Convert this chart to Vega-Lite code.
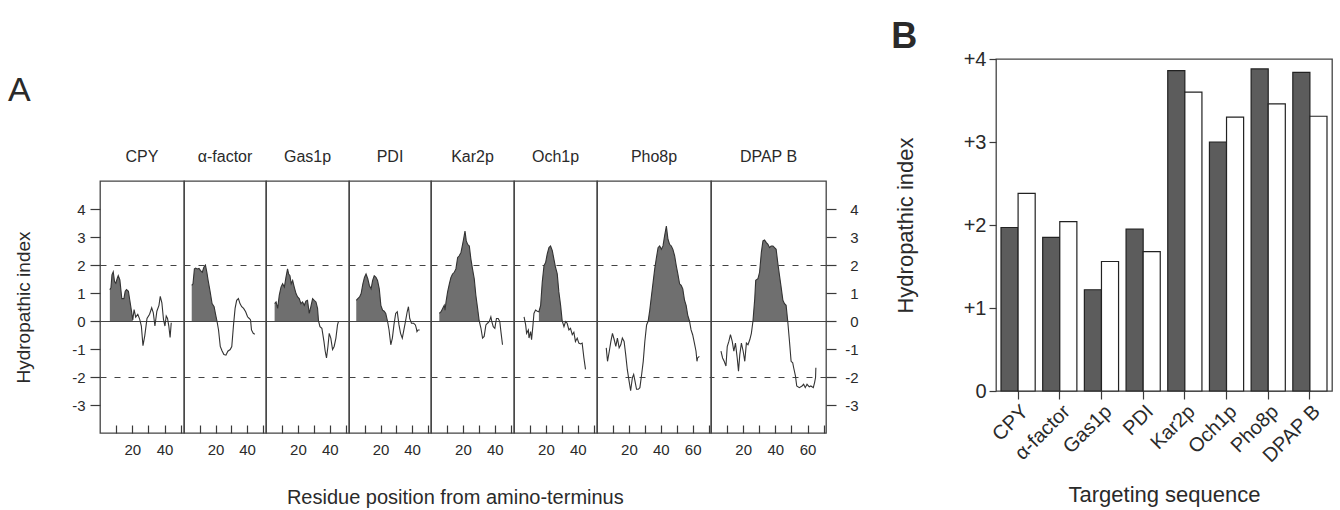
{
  "$schema": "https://vega.github.io/schema/vega-lite/v6.json",
  "padding": {"left": 8, "top": 18, "right": 0, "bottom": 0},
  "background": "#ffffff",
  "config": {
    "font": "Liberation Sans",
    "view": {"stroke": "#444444", "strokeWidth": 1.3},
    "axis": {"labelFont": "Liberation Sans", "titleFont": "Liberation Sans", "labelColor": "#2a2a2a", "titleColor": "#2a2a2a", "tickColor": "#3a3a3a", "tickWidth": 1.2, "grid": false, "titleFontWeight": "normal"},
    "title": {"font": "Liberation Sans", "fontSize": 16, "fontWeight": "normal", "color": "#2a2a2a", "offset": 16, "anchor": "middle"}
  },
  "datasets": {
    "profiles": [
      {"seq": "CPY", "res": 6.1, "h": 1.12, "core": true},
      {"seq": "CPY", "res": 6.8, "h": 1.2, "core": true},
      {"seq": "CPY", "res": 7.4, "h": 1.65, "core": true},
      {"seq": "CPY", "res": 8.2, "h": 1.76, "core": true},
      {"seq": "CPY", "res": 9.0, "h": 1.41, "core": true},
      {"seq": "CPY", "res": 9.8, "h": 1.35, "core": true},
      {"seq": "CPY", "res": 10.7, "h": 1.53, "core": true},
      {"seq": "CPY", "res": 11.3, "h": 1.62, "core": true},
      {"seq": "CPY", "res": 12.3, "h": 1.47, "core": true},
      {"seq": "CPY", "res": 13.5, "h": 0.8, "core": true},
      {"seq": "CPY", "res": 14.8, "h": 0.8, "core": true},
      {"seq": "CPY", "res": 15.6, "h": 1.06, "core": true},
      {"seq": "CPY", "res": 16.4, "h": 1.12, "core": true},
      {"seq": "CPY", "res": 17.6, "h": 1.06, "core": true},
      {"seq": "CPY", "res": 18.4, "h": 0.76, "core": true},
      {"seq": "CPY", "res": 19.5, "h": 0.35, "core": true},
      {"seq": "CPY", "res": 20.3, "h": 0.04, "core": true},
      {"seq": "CPY", "res": 21.1, "h": 0.41},
      {"seq": "CPY", "res": 22.1, "h": 0.14},
      {"seq": "CPY", "res": 23.4, "h": 0.24},
      {"seq": "CPY", "res": 24.6, "h": 0.06},
      {"seq": "CPY", "res": 25.6, "h": -0.18},
      {"seq": "CPY", "res": 26.6, "h": -0.88},
      {"seq": "CPY", "res": 27.7, "h": -0.53},
      {"seq": "CPY", "res": 29.1, "h": 0.09},
      {"seq": "CPY", "res": 30.7, "h": 0.24},
      {"seq": "CPY", "res": 32.0, "h": 0.47},
      {"seq": "CPY", "res": 33.0, "h": 0.29},
      {"seq": "CPY", "res": 34.0, "h": -0.18},
      {"seq": "CPY", "res": 35.2, "h": 0.35},
      {"seq": "CPY", "res": 36.5, "h": 0.56},
      {"seq": "CPY", "res": 37.3, "h": 0.88},
      {"seq": "CPY", "res": 38.3, "h": 0.65},
      {"seq": "CPY", "res": 39.3, "h": 0.06},
      {"seq": "CPY", "res": 40.2, "h": -0.18},
      {"seq": "CPY", "res": 41.0, "h": 0.18},
      {"seq": "CPY", "res": 41.8, "h": 0.09},
      {"seq": "CPY", "res": 42.6, "h": -0.18},
      {"seq": "CPY", "res": 43.4, "h": -0.59},
      {"seq": "CPY", "res": 44.1, "h": -0.06},
      {"seq": "α-factor", "res": 4.9, "h": 1.27, "core": true},
      {"seq": "α-factor", "res": 5.7, "h": 1.33, "core": true},
      {"seq": "α-factor", "res": 6.6, "h": 1.86, "core": true},
      {"seq": "α-factor", "res": 7.4, "h": 1.89, "core": true},
      {"seq": "α-factor", "res": 8.4, "h": 1.86, "core": true},
      {"seq": "α-factor", "res": 9.5, "h": 1.88, "core": true},
      {"seq": "α-factor", "res": 10.5, "h": 1.8, "core": true},
      {"seq": "α-factor", "res": 11.6, "h": 1.74, "core": true},
      {"seq": "α-factor", "res": 12.6, "h": 1.92, "core": true},
      {"seq": "α-factor", "res": 13.6, "h": 2.0, "core": true},
      {"seq": "α-factor", "res": 14.5, "h": 1.74, "core": true},
      {"seq": "α-factor", "res": 15.3, "h": 1.45, "core": true},
      {"seq": "α-factor", "res": 16.6, "h": 1.04, "core": true},
      {"seq": "α-factor", "res": 17.8, "h": 0.62, "core": true},
      {"seq": "α-factor", "res": 19.1, "h": 0.51, "core": true},
      {"seq": "α-factor", "res": 19.9, "h": 0.27, "core": true},
      {"seq": "α-factor", "res": 20.9, "h": 0.0, "core": true},
      {"seq": "α-factor", "res": 21.9, "h": -0.32},
      {"seq": "α-factor", "res": 23.0, "h": -0.91},
      {"seq": "α-factor", "res": 24.1, "h": -1.06},
      {"seq": "α-factor", "res": 25.3, "h": -1.2},
      {"seq": "α-factor", "res": 26.6, "h": -1.22},
      {"seq": "α-factor", "res": 27.8, "h": -1.08},
      {"seq": "α-factor", "res": 29.3, "h": -1.02},
      {"seq": "α-factor", "res": 30.3, "h": -0.91},
      {"seq": "α-factor", "res": 31.4, "h": -0.14},
      {"seq": "α-factor", "res": 32.4, "h": 0.45},
      {"seq": "α-factor", "res": 33.4, "h": 0.74},
      {"seq": "α-factor", "res": 34.5, "h": 0.8},
      {"seq": "α-factor", "res": 35.5, "h": 0.62},
      {"seq": "α-factor", "res": 36.6, "h": 0.51},
      {"seq": "α-factor", "res": 37.8, "h": 0.45},
      {"seq": "α-factor", "res": 39.1, "h": 0.33},
      {"seq": "α-factor", "res": 40.3, "h": 0.15},
      {"seq": "α-factor", "res": 41.4, "h": 0.09},
      {"seq": "α-factor", "res": 42.2, "h": 0.04},
      {"seq": "α-factor", "res": 42.8, "h": -0.32},
      {"seq": "α-factor", "res": 43.9, "h": -0.44},
      {"seq": "α-factor", "res": 44.9, "h": -0.47},
      {"seq": "Gas1p", "res": 5.4, "h": 0.62, "core": true},
      {"seq": "Gas1p", "res": 6.3, "h": 0.68, "core": true},
      {"seq": "Gas1p", "res": 7.3, "h": 0.45, "core": true},
      {"seq": "Gas1p", "res": 8.3, "h": 0.92, "core": true},
      {"seq": "Gas1p", "res": 9.4, "h": 1.21, "core": true},
      {"seq": "Gas1p", "res": 10.4, "h": 1.33, "core": true},
      {"seq": "Gas1p", "res": 11.5, "h": 1.21, "core": true},
      {"seq": "Gas1p", "res": 12.5, "h": 1.56, "core": true},
      {"seq": "Gas1p", "res": 13.5, "h": 1.86, "core": true},
      {"seq": "Gas1p", "res": 14.2, "h": 1.68, "core": true},
      {"seq": "Gas1p", "res": 15.0, "h": 1.62, "core": true},
      {"seq": "Gas1p", "res": 15.8, "h": 1.33, "core": true},
      {"seq": "Gas1p", "res": 16.7, "h": 1.45, "core": true},
      {"seq": "Gas1p", "res": 17.7, "h": 1.21, "core": true},
      {"seq": "Gas1p", "res": 18.8, "h": 0.98, "core": true},
      {"seq": "Gas1p", "res": 19.8, "h": 0.86, "core": true},
      {"seq": "Gas1p", "res": 20.8, "h": 0.8, "core": true},
      {"seq": "Gas1p", "res": 21.9, "h": 0.62, "core": true},
      {"seq": "Gas1p", "res": 22.9, "h": 0.68, "core": true},
      {"seq": "Gas1p", "res": 24.0, "h": 0.56, "core": true},
      {"seq": "Gas1p", "res": 25.0, "h": 0.71, "core": true},
      {"seq": "Gas1p", "res": 26.0, "h": 0.74, "core": true},
      {"seq": "Gas1p", "res": 27.1, "h": 0.27, "core": true},
      {"seq": "Gas1p", "res": 28.1, "h": 0.51, "core": true},
      {"seq": "Gas1p", "res": 29.2, "h": 0.8, "core": true},
      {"seq": "Gas1p", "res": 30.2, "h": 0.74, "core": true},
      {"seq": "Gas1p", "res": 31.3, "h": 0.68, "core": true},
      {"seq": "Gas1p", "res": 32.3, "h": 0.45, "core": true},
      {"seq": "Gas1p", "res": 32.9, "h": 0.0, "core": true},
      {"seq": "Gas1p", "res": 33.8, "h": -0.2},
      {"seq": "Gas1p", "res": 35.0, "h": -0.26},
      {"seq": "Gas1p", "res": 36.3, "h": -0.73},
      {"seq": "Gas1p", "res": 37.1, "h": -1.08},
      {"seq": "Gas1p", "res": 37.9, "h": -1.32},
      {"seq": "Gas1p", "res": 38.8, "h": -0.91},
      {"seq": "Gas1p", "res": 39.6, "h": -0.44},
      {"seq": "Gas1p", "res": 40.6, "h": -0.61},
      {"seq": "Gas1p", "res": 41.7, "h": -1.02},
      {"seq": "Gas1p", "res": 42.7, "h": -0.91},
      {"seq": "Gas1p", "res": 43.8, "h": -0.61},
      {"seq": "Gas1p", "res": 44.8, "h": -0.14},
      {"seq": "Gas1p", "res": 45.4, "h": -0.02},
      {"seq": "PDI", "res": 4.6, "h": 0.74, "core": true},
      {"seq": "PDI", "res": 5.6, "h": 0.8, "core": true},
      {"seq": "PDI", "res": 6.7, "h": 0.86, "core": true},
      {"seq": "PDI", "res": 7.7, "h": 0.98, "core": true},
      {"seq": "PDI", "res": 8.8, "h": 1.33, "core": true},
      {"seq": "PDI", "res": 9.8, "h": 1.56, "core": true},
      {"seq": "PDI", "res": 10.8, "h": 1.68, "core": true},
      {"seq": "PDI", "res": 11.9, "h": 1.51, "core": true},
      {"seq": "PDI", "res": 12.9, "h": 1.27, "core": true},
      {"seq": "PDI", "res": 14.0, "h": 1.15, "core": true},
      {"seq": "PDI", "res": 15.0, "h": 1.45, "core": true},
      {"seq": "PDI", "res": 16.0, "h": 1.62, "core": true},
      {"seq": "PDI", "res": 17.1, "h": 1.56, "core": true},
      {"seq": "PDI", "res": 18.1, "h": 1.45, "core": true},
      {"seq": "PDI", "res": 19.2, "h": 1.15, "core": true},
      {"seq": "PDI", "res": 20.2, "h": 0.56, "core": true},
      {"seq": "PDI", "res": 21.3, "h": 0.39, "core": true},
      {"seq": "PDI", "res": 22.3, "h": 0.35, "core": true},
      {"seq": "PDI", "res": 23.3, "h": 0.27, "core": true},
      {"seq": "PDI", "res": 24.4, "h": 0.0, "core": true},
      {"seq": "PDI", "res": 25.4, "h": -0.32},
      {"seq": "PDI", "res": 26.5, "h": -0.85},
      {"seq": "PDI", "res": 27.5, "h": -0.61},
      {"seq": "PDI", "res": 28.5, "h": -0.14},
      {"seq": "PDI", "res": 29.6, "h": 0.27},
      {"seq": "PDI", "res": 30.6, "h": 0.33},
      {"seq": "PDI", "res": 31.7, "h": -0.14},
      {"seq": "PDI", "res": 32.7, "h": -0.44},
      {"seq": "PDI", "res": 33.8, "h": -0.61},
      {"seq": "PDI", "res": 34.8, "h": -0.32},
      {"seq": "PDI", "res": 35.8, "h": -0.02},
      {"seq": "PDI", "res": 36.9, "h": 0.33},
      {"seq": "PDI", "res": 37.7, "h": 0.51},
      {"seq": "PDI", "res": 38.5, "h": 0.09},
      {"seq": "PDI", "res": 39.6, "h": -0.08},
      {"seq": "PDI", "res": 41.0, "h": -0.08},
      {"seq": "PDI", "res": 42.1, "h": -0.14},
      {"seq": "PDI", "res": 42.7, "h": -0.26},
      {"seq": "PDI", "res": 43.1, "h": -0.38},
      {"seq": "PDI", "res": 43.8, "h": -0.32},
      {"seq": "PDI", "res": 44.8, "h": -0.32},
      {"seq": "Kar2p", "res": 5.2, "h": 0.27, "core": true},
      {"seq": "Kar2p", "res": 6.3, "h": 0.33, "core": true},
      {"seq": "Kar2p", "res": 7.3, "h": 0.45, "core": true},
      {"seq": "Kar2p", "res": 8.3, "h": 0.56, "core": true},
      {"seq": "Kar2p", "res": 8.8, "h": 0.39, "core": true},
      {"seq": "Kar2p", "res": 9.4, "h": 0.68, "core": true},
      {"seq": "Kar2p", "res": 10.4, "h": 1.04, "core": true},
      {"seq": "Kar2p", "res": 11.5, "h": 1.33, "core": true},
      {"seq": "Kar2p", "res": 12.5, "h": 1.56, "core": true},
      {"seq": "Kar2p", "res": 13.5, "h": 1.68, "core": true},
      {"seq": "Kar2p", "res": 14.6, "h": 1.74, "core": true},
      {"seq": "Kar2p", "res": 15.6, "h": 1.86, "core": true},
      {"seq": "Kar2p", "res": 16.7, "h": 2.27, "core": true},
      {"seq": "Kar2p", "res": 17.7, "h": 2.33, "core": true},
      {"seq": "Kar2p", "res": 18.8, "h": 2.45, "core": true},
      {"seq": "Kar2p", "res": 19.8, "h": 2.74, "core": true},
      {"seq": "Kar2p", "res": 20.4, "h": 2.92, "core": true},
      {"seq": "Kar2p", "res": 21.3, "h": 3.21, "core": true},
      {"seq": "Kar2p", "res": 22.1, "h": 2.86, "core": true},
      {"seq": "Kar2p", "res": 22.9, "h": 2.74, "core": true},
      {"seq": "Kar2p", "res": 24.0, "h": 2.68, "core": true},
      {"seq": "Kar2p", "res": 25.0, "h": 2.21, "core": true},
      {"seq": "Kar2p", "res": 26.0, "h": 1.86, "core": true},
      {"seq": "Kar2p", "res": 27.1, "h": 1.51, "core": true},
      {"seq": "Kar2p", "res": 28.1, "h": 0.92, "core": true},
      {"seq": "Kar2p", "res": 29.2, "h": 0.45, "core": true},
      {"seq": "Kar2p", "res": 30.2, "h": 0.0, "core": true},
      {"seq": "Kar2p", "res": 31.3, "h": -0.26},
      {"seq": "Kar2p", "res": 32.3, "h": -0.61},
      {"seq": "Kar2p", "res": 33.3, "h": -0.55},
      {"seq": "Kar2p", "res": 34.4, "h": -0.14},
      {"seq": "Kar2p", "res": 35.4, "h": -0.08},
      {"seq": "Kar2p", "res": 36.5, "h": -0.02},
      {"seq": "Kar2p", "res": 37.5, "h": 0.15},
      {"seq": "Kar2p", "res": 38.1, "h": -0.02},
      {"seq": "Kar2p", "res": 39.0, "h": -0.2},
      {"seq": "Kar2p", "res": 40.0, "h": -0.26},
      {"seq": "Kar2p", "res": 41.0, "h": 0.09},
      {"seq": "Kar2p", "res": 42.1, "h": 0.09},
      {"seq": "Kar2p", "res": 43.1, "h": -0.02},
      {"seq": "Kar2p", "res": 43.8, "h": -0.38},
      {"seq": "Kar2p", "res": 44.8, "h": -0.85},
      {"seq": "Och1p", "res": 6.3, "h": 0.15},
      {"seq": "Och1p", "res": 7.3, "h": -0.14},
      {"seq": "Och1p", "res": 7.9, "h": -0.44},
      {"seq": "Och1p", "res": 9.0, "h": -0.32},
      {"seq": "Och1p", "res": 9.4, "h": -0.61},
      {"seq": "Och1p", "res": 10.4, "h": -0.38},
      {"seq": "Och1p", "res": 11.0, "h": -0.67},
      {"seq": "Och1p", "res": 11.9, "h": -0.14},
      {"seq": "Och1p", "res": 12.5, "h": 0.27},
      {"seq": "Och1p", "res": 13.5, "h": 0.39},
      {"seq": "Och1p", "res": 14.6, "h": 0.35},
      {"seq": "Och1p", "res": 15.6, "h": 0.33, "core": true},
      {"seq": "Och1p", "res": 16.7, "h": 0.56, "core": true},
      {"seq": "Och1p", "res": 17.7, "h": 1.39, "core": true},
      {"seq": "Och1p", "res": 18.8, "h": 1.98, "core": true},
      {"seq": "Och1p", "res": 19.8, "h": 2.09, "core": true},
      {"seq": "Och1p", "res": 20.8, "h": 2.39, "core": true},
      {"seq": "Och1p", "res": 21.9, "h": 2.62, "core": true},
      {"seq": "Och1p", "res": 22.9, "h": 2.68, "core": true},
      {"seq": "Och1p", "res": 24.0, "h": 2.51, "core": true},
      {"seq": "Och1p", "res": 25.0, "h": 2.21, "core": true},
      {"seq": "Och1p", "res": 26.0, "h": 1.92, "core": true},
      {"seq": "Och1p", "res": 27.1, "h": 1.68, "core": true},
      {"seq": "Och1p", "res": 28.1, "h": 1.04, "core": true},
      {"seq": "Och1p", "res": 29.2, "h": 0.56, "core": true},
      {"seq": "Och1p", "res": 30.2, "h": 0.0, "core": true},
      {"seq": "Och1p", "res": 31.3, "h": -0.2},
      {"seq": "Och1p", "res": 32.3, "h": -0.02},
      {"seq": "Och1p", "res": 33.3, "h": -0.08},
      {"seq": "Och1p", "res": 34.4, "h": -0.32},
      {"seq": "Och1p", "res": 35.4, "h": -0.26},
      {"seq": "Och1p", "res": 36.5, "h": -0.49},
      {"seq": "Och1p", "res": 37.5, "h": -0.4},
      {"seq": "Och1p", "res": 38.5, "h": -0.73},
      {"seq": "Och1p", "res": 39.6, "h": -0.61},
      {"seq": "Och1p", "res": 40.6, "h": -0.79},
      {"seq": "Och1p", "res": 41.7, "h": -0.82},
      {"seq": "Och1p", "res": 42.7, "h": -0.79},
      {"seq": "Och1p", "res": 43.8, "h": -1.32},
      {"seq": "Och1p", "res": 44.8, "h": -1.73},
      {"seq": "Pho8p", "res": 5.8, "h": -0.96},
      {"seq": "Pho8p", "res": 6.6, "h": -1.44},
      {"seq": "Pho8p", "res": 7.7, "h": -1.08},
      {"seq": "Pho8p", "res": 8.7, "h": -0.73},
      {"seq": "Pho8p", "res": 9.7, "h": -0.44},
      {"seq": "Pho8p", "res": 10.8, "h": -0.67},
      {"seq": "Pho8p", "res": 11.8, "h": -0.91},
      {"seq": "Pho8p", "res": 12.8, "h": -0.61},
      {"seq": "Pho8p", "res": 13.9, "h": -0.96},
      {"seq": "Pho8p", "res": 14.9, "h": -0.85},
      {"seq": "Pho8p", "res": 15.9, "h": -0.61},
      {"seq": "Pho8p", "res": 17.0, "h": -0.73},
      {"seq": "Pho8p", "res": 18.0, "h": -1.2},
      {"seq": "Pho8p", "res": 19.0, "h": -1.73},
      {"seq": "Pho8p", "res": 20.1, "h": -2.14},
      {"seq": "Pho8p", "res": 21.1, "h": -2.49},
      {"seq": "Pho8p", "res": 22.2, "h": -2.02},
      {"seq": "Pho8p", "res": 23.0, "h": -1.91},
      {"seq": "Pho8p", "res": 23.8, "h": -2.14},
      {"seq": "Pho8p", "res": 24.8, "h": -2.44},
      {"seq": "Pho8p", "res": 25.9, "h": -2.44},
      {"seq": "Pho8p", "res": 26.9, "h": -2.38},
      {"seq": "Pho8p", "res": 28.0, "h": -1.91},
      {"seq": "Pho8p", "res": 29.0, "h": -1.44},
      {"seq": "Pho8p", "res": 30.0, "h": -0.73},
      {"seq": "Pho8p", "res": 31.1, "h": -0.14},
      {"seq": "Pho8p", "res": 32.1, "h": 0.0, "core": true},
      {"seq": "Pho8p", "res": 33.1, "h": 0.39, "core": true},
      {"seq": "Pho8p", "res": 34.2, "h": 0.92, "core": true},
      {"seq": "Pho8p", "res": 35.2, "h": 1.39, "core": true},
      {"seq": "Pho8p", "res": 36.2, "h": 1.86, "core": true},
      {"seq": "Pho8p", "res": 37.3, "h": 2.27, "core": true},
      {"seq": "Pho8p", "res": 38.3, "h": 2.62, "core": true},
      {"seq": "Pho8p", "res": 39.3, "h": 2.68, "core": true},
      {"seq": "Pho8p", "res": 40.4, "h": 2.56, "core": true},
      {"seq": "Pho8p", "res": 41.4, "h": 2.68, "core": true},
      {"seq": "Pho8p", "res": 42.4, "h": 3.04, "core": true},
      {"seq": "Pho8p", "res": 43.5, "h": 3.39, "core": true},
      {"seq": "Pho8p", "res": 44.5, "h": 2.92, "core": true},
      {"seq": "Pho8p", "res": 45.5, "h": 2.74, "core": true},
      {"seq": "Pho8p", "res": 46.6, "h": 2.68, "core": true},
      {"seq": "Pho8p", "res": 47.6, "h": 2.56, "core": true},
      {"seq": "Pho8p", "res": 48.7, "h": 2.33, "core": true},
      {"seq": "Pho8p", "res": 49.7, "h": 1.98, "core": true},
      {"seq": "Pho8p", "res": 50.7, "h": 1.68, "core": true},
      {"seq": "Pho8p", "res": 51.8, "h": 1.33, "core": true},
      {"seq": "Pho8p", "res": 52.8, "h": 1.27, "core": true},
      {"seq": "Pho8p", "res": 53.8, "h": 1.15, "core": true},
      {"seq": "Pho8p", "res": 54.9, "h": 0.74, "core": true},
      {"seq": "Pho8p", "res": 55.9, "h": 0.56, "core": true},
      {"seq": "Pho8p", "res": 56.9, "h": 0.21, "core": true},
      {"seq": "Pho8p", "res": 58.0, "h": 0.0, "core": true},
      {"seq": "Pho8p", "res": 59.0, "h": -0.32},
      {"seq": "Pho8p", "res": 60.0, "h": -0.49},
      {"seq": "Pho8p", "res": 61.1, "h": -0.79},
      {"seq": "Pho8p", "res": 62.1, "h": -1.08},
      {"seq": "Pho8p", "res": 62.7, "h": -1.44},
      {"seq": "Pho8p", "res": 63.1, "h": -1.32},
      {"seq": "Pho8p", "res": 64.2, "h": -1.26},
      {"seq": "DPAP B", "res": 6.2, "h": -1.08},
      {"seq": "DPAP B", "res": 7.2, "h": -1.32},
      {"seq": "DPAP B", "res": 8.2, "h": -1.44},
      {"seq": "DPAP B", "res": 9.3, "h": -1.61},
      {"seq": "DPAP B", "res": 10.1, "h": -0.91},
      {"seq": "DPAP B", "res": 11.1, "h": -0.73},
      {"seq": "DPAP B", "res": 12.1, "h": -0.49},
      {"seq": "DPAP B", "res": 13.2, "h": -0.73},
      {"seq": "DPAP B", "res": 14.2, "h": -1.08},
      {"seq": "DPAP B", "res": 15.2, "h": -0.79},
      {"seq": "DPAP B", "res": 16.3, "h": -1.32},
      {"seq": "DPAP B", "res": 17.1, "h": -1.79},
      {"seq": "DPAP B", "res": 17.9, "h": -1.2},
      {"seq": "DPAP B", "res": 18.9, "h": -0.79},
      {"seq": "DPAP B", "res": 20.0, "h": -1.08},
      {"seq": "DPAP B", "res": 21.0, "h": -1.44},
      {"seq": "DPAP B", "res": 22.0, "h": -0.79},
      {"seq": "DPAP B", "res": 23.0, "h": -0.85},
      {"seq": "DPAP B", "res": 24.1, "h": -0.67},
      {"seq": "DPAP B", "res": 25.1, "h": -0.44},
      {"seq": "DPAP B", "res": 26.1, "h": 0.0, "core": true},
      {"seq": "DPAP B", "res": 27.2, "h": 0.8, "core": true},
      {"seq": "DPAP B", "res": 27.8, "h": 1.45, "core": true},
      {"seq": "DPAP B", "res": 29.2, "h": 1.51, "core": true},
      {"seq": "DPAP B", "res": 30.2, "h": 1.74, "core": true},
      {"seq": "DPAP B", "res": 31.3, "h": 2.45, "core": true},
      {"seq": "DPAP B", "res": 32.3, "h": 2.86, "core": true},
      {"seq": "DPAP B", "res": 33.3, "h": 2.89, "core": true},
      {"seq": "DPAP B", "res": 34.4, "h": 2.8, "core": true},
      {"seq": "DPAP B", "res": 35.4, "h": 2.74, "core": true},
      {"seq": "DPAP B", "res": 36.4, "h": 2.62, "core": true},
      {"seq": "DPAP B", "res": 37.4, "h": 2.68, "core": true},
      {"seq": "DPAP B", "res": 38.5, "h": 2.68, "core": true},
      {"seq": "DPAP B", "res": 39.5, "h": 2.62, "core": true},
      {"seq": "DPAP B", "res": 40.5, "h": 2.56, "core": true},
      {"seq": "DPAP B", "res": 41.6, "h": 2.04, "core": true},
      {"seq": "DPAP B", "res": 42.6, "h": 1.62, "core": true},
      {"seq": "DPAP B", "res": 43.6, "h": 1.21, "core": true},
      {"seq": "DPAP B", "res": 44.7, "h": 0.74, "core": true},
      {"seq": "DPAP B", "res": 45.7, "h": 0.62, "core": true},
      {"seq": "DPAP B", "res": 46.7, "h": 0.56, "core": true},
      {"seq": "DPAP B", "res": 47.7, "h": 0.0, "core": true},
      {"seq": "DPAP B", "res": 48.8, "h": -0.73},
      {"seq": "DPAP B", "res": 49.8, "h": -1.44},
      {"seq": "DPAP B", "res": 50.8, "h": -1.49},
      {"seq": "DPAP B", "res": 51.4, "h": -1.67},
      {"seq": "DPAP B", "res": 52.5, "h": -1.96},
      {"seq": "DPAP B", "res": 53.3, "h": -2.32},
      {"seq": "DPAP B", "res": 54.9, "h": -2.38},
      {"seq": "DPAP B", "res": 56.6, "h": -2.32},
      {"seq": "DPAP B", "res": 57.6, "h": -2.26},
      {"seq": "DPAP B", "res": 58.6, "h": -2.38},
      {"seq": "DPAP B", "res": 59.7, "h": -2.26},
      {"seq": "DPAP B", "res": 61.1, "h": -2.35},
      {"seq": "DPAP B", "res": 62.1, "h": -2.32},
      {"seq": "DPAP B", "res": 63.6, "h": -2.38},
      {"seq": "DPAP B", "res": 64.4, "h": -2.2},
      {"seq": "DPAP B", "res": 65.0, "h": -2.02},
      {"seq": "DPAP B", "res": 65.2, "h": -1.67}
    ],
    "bars": [
      {"seq": "CPY", "series": "solid", "h": 1.97},
      {"seq": "CPY", "series": "open", "h": 2.38},
      {"seq": "α-factor", "series": "solid", "h": 1.85},
      {"seq": "α-factor", "series": "open", "h": 2.04},
      {"seq": "Gas1p", "series": "solid", "h": 1.22},
      {"seq": "Gas1p", "series": "open", "h": 1.56},
      {"seq": "PDI", "series": "solid", "h": 1.95},
      {"seq": "PDI", "series": "open", "h": 1.68},
      {"seq": "Kar2p", "series": "solid", "h": 3.86},
      {"seq": "Kar2p", "series": "open", "h": 3.6},
      {"seq": "Och1p", "series": "solid", "h": 3.0},
      {"seq": "Och1p", "series": "open", "h": 3.3},
      {"seq": "Pho8p", "series": "solid", "h": 3.88},
      {"seq": "Pho8p", "series": "open", "h": 3.46},
      {"seq": "DPAP B", "series": "solid", "h": 3.84},
      {"seq": "DPAP B", "series": "open", "h": 3.31}
    ]
  },
  "spacing": 31,
  "hconcat": [
    {
      "spacing": 14,
      "vconcat": [
        {"width": 1, "height": 1, "view": {"stroke": null}, "data": {"values": []}, "mark": "point", "encoding": {}},
        {
          "title": {"text": "A", "anchor": "start", "frame": "bounds", "fontSize": 34, "fontWeight": "normal", "baseline": "alphabetic", "offset": 13, "dx": -6},
          "hconcat": [
            {
              "title": {"text": "Residue position from amino-terminus", "orient": "bottom", "anchor": "middle", "frame": "bounds", "fontSize": 20, "baseline": "top", "offset": 30, "dx": 19},
              "spacing": 0,
              "bounds": "flush",
              "hconcat": [
                {
                  "width": 84, "height": 252, "title": "CPY",
                  "data": {"name": "profiles"},
                  "transform": [{"filter": "datum.seq === 'CPY'"}],
                  "encoding": {
                    "x": {"field": "res", "type": "quantitative", "scale": {"domain": [0, 52], "nice": false}, "axis": {"values": [10, 20, 30, 40, 50], "labelExpr": "datum.value % 20 === 0 ? datum.label : ''", "tickSize": -8, "labelPadding": 17, "domain": false, "title": null, "labelFontSize": 15, "labelFlush": false, "labelOverlap": false}},
                    "y": {"field": "h", "type": "quantitative", "scale": {"domain": [-4, 5], "nice": false}, "axis": {"orient": "left", "values": [-3, -2, -1, 0, 1, 2, 3, 4], "labelExpr": "datum.value < 0 ? '-' + abs(datum.value) : datum.label", "tickSize": 10, "labelPadding": 5, "domain": false, "title": "Hydropathic index", "titleFontSize": 19, "titlePadding": 38, "labelFontSize": 15, "grid": true, "gridColor": "#444444", "gridOpacity": {"condition": {"test": "abs(datum.value) === 2 || datum.value === 0", "value": 1}, "value": 0}, "gridDash": {"condition": {"test": "datum.value === 0", "value": []}, "value": [6, 8]}}}
                  },
                  "layer": [
                    {"transform": [{"filter": "datum.core"}], "mark": {"type": "area", "fill": "#6f6f6f"}, "encoding": {"y2": {"datum": 0}}},
                    {"mark": {"type": "line", "stroke": "#333333", "strokeWidth": 1.1}}
                  ]
                },
                {
                  "width": 82, "height": 252, "title": "α-factor",
                  "data": {"name": "profiles"},
                  "transform": [{"filter": "datum.seq === 'α-factor'"}],
                  "encoding": {
                    "x": {"field": "res", "type": "quantitative", "scale": {"domain": [0, 52], "nice": false}, "axis": {"values": [10, 20, 30, 40, 50], "labelExpr": "datum.value % 20 === 0 ? datum.label : ''", "tickSize": -8, "labelPadding": 17, "domain": false, "title": null, "labelFontSize": 15, "labelFlush": false, "labelOverlap": false}},
                    "y": {"field": "h", "type": "quantitative", "scale": {"domain": [-4, 5], "nice": false}, "axis": {"values": [-2, 0, 2], "labels": false, "ticks": false, "domain": false, "title": null, "grid": true, "gridColor": "#444444", "gridDash": {"condition": {"test": "datum.value === 0", "value": []}, "value": [6, 8]}}}
                  },
                  "layer": [
                    {"transform": [{"filter": "datum.core"}], "mark": {"type": "area", "fill": "#6f6f6f"}, "encoding": {"y2": {"datum": 0}}},
                    {"mark": {"type": "line", "stroke": "#333333", "strokeWidth": 1.1}}
                  ]
                },
                {
                  "width": 83, "height": 252, "title": "Gas1p",
                  "data": {"name": "profiles"},
                  "transform": [{"filter": "datum.seq === 'Gas1p'"}],
                  "encoding": {
                    "x": {"field": "res", "type": "quantitative", "scale": {"domain": [0, 52], "nice": false}, "axis": {"values": [10, 20, 30, 40, 50], "labelExpr": "datum.value % 20 === 0 ? datum.label : ''", "tickSize": -8, "labelPadding": 17, "domain": false, "title": null, "labelFontSize": 15, "labelFlush": false, "labelOverlap": false}},
                    "y": {"field": "h", "type": "quantitative", "scale": {"domain": [-4, 5], "nice": false}, "axis": {"values": [-2, 0, 2], "labels": false, "ticks": false, "domain": false, "title": null, "grid": true, "gridColor": "#444444", "gridDash": {"condition": {"test": "datum.value === 0", "value": []}, "value": [6, 8]}}}
                  },
                  "layer": [
                    {"transform": [{"filter": "datum.core"}], "mark": {"type": "area", "fill": "#6f6f6f"}, "encoding": {"y2": {"datum": 0}}},
                    {"mark": {"type": "line", "stroke": "#333333", "strokeWidth": 1.1}}
                  ]
                },
                {
                  "width": 82, "height": 252, "title": "PDI",
                  "data": {"name": "profiles"},
                  "transform": [{"filter": "datum.seq === 'PDI'"}],
                  "encoding": {
                    "x": {"field": "res", "type": "quantitative", "scale": {"domain": [0, 52], "nice": false}, "axis": {"values": [10, 20, 30, 40, 50], "labelExpr": "datum.value % 20 === 0 ? datum.label : ''", "tickSize": -8, "labelPadding": 17, "domain": false, "title": null, "labelFontSize": 15, "labelFlush": false, "labelOverlap": false}},
                    "y": {"field": "h", "type": "quantitative", "scale": {"domain": [-4, 5], "nice": false}, "axis": {"values": [-2, 0, 2], "labels": false, "ticks": false, "domain": false, "title": null, "grid": true, "gridColor": "#444444", "gridDash": {"condition": {"test": "datum.value === 0", "value": []}, "value": [6, 8]}}}
                  },
                  "layer": [
                    {"transform": [{"filter": "datum.core"}], "mark": {"type": "area", "fill": "#6f6f6f"}, "encoding": {"y2": {"datum": 0}}},
                    {"mark": {"type": "line", "stroke": "#333333", "strokeWidth": 1.1}}
                  ]
                },
                {
                  "width": 83, "height": 252, "title": "Kar2p",
                  "data": {"name": "profiles"},
                  "transform": [{"filter": "datum.seq === 'Kar2p'"}],
                  "encoding": {
                    "x": {"field": "res", "type": "quantitative", "scale": {"domain": [0, 52], "nice": false}, "axis": {"values": [10, 20, 30, 40, 50], "labelExpr": "datum.value % 20 === 0 ? datum.label : ''", "tickSize": -8, "labelPadding": 17, "domain": false, "title": null, "labelFontSize": 15, "labelFlush": false, "labelOverlap": false}},
                    "y": {"field": "h", "type": "quantitative", "scale": {"domain": [-4, 5], "nice": false}, "axis": {"values": [-2, 0, 2], "labels": false, "ticks": false, "domain": false, "title": null, "grid": true, "gridColor": "#444444", "gridDash": {"condition": {"test": "datum.value === 0", "value": []}, "value": [6, 8]}}}
                  },
                  "layer": [
                    {"transform": [{"filter": "datum.core"}], "mark": {"type": "area", "fill": "#6f6f6f"}, "encoding": {"y2": {"datum": 0}}},
                    {"mark": {"type": "line", "stroke": "#333333", "strokeWidth": 1.1}}
                  ]
                },
                {
                  "width": 83, "height": 252, "title": "Och1p",
                  "data": {"name": "profiles"},
                  "transform": [{"filter": "datum.seq === 'Och1p'"}],
                  "encoding": {
                    "x": {"field": "res", "type": "quantitative", "scale": {"domain": [0, 52], "nice": false}, "axis": {"values": [10, 20, 30, 40, 50], "labelExpr": "datum.value % 20 === 0 ? datum.label : ''", "tickSize": -8, "labelPadding": 17, "domain": false, "title": null, "labelFontSize": 15, "labelFlush": false, "labelOverlap": false}},
                    "y": {"field": "h", "type": "quantitative", "scale": {"domain": [-4, 5], "nice": false}, "axis": {"values": [-2, 0, 2], "labels": false, "ticks": false, "domain": false, "title": null, "grid": true, "gridColor": "#444444", "gridDash": {"condition": {"test": "datum.value === 0", "value": []}, "value": [6, 8]}}}
                  },
                  "layer": [
                    {"transform": [{"filter": "datum.core"}], "mark": {"type": "area", "fill": "#6f6f6f"}, "encoding": {"y2": {"datum": 0}}},
                    {"mark": {"type": "line", "stroke": "#333333", "strokeWidth": 1.1}}
                  ]
                },
                {
                  "width": 114, "height": 252, "title": "Pho8p",
                  "data": {"name": "profiles"},
                  "transform": [{"filter": "datum.seq === 'Pho8p'"}],
                  "encoding": {
                    "x": {"field": "res", "type": "quantitative", "scale": {"domain": [0, 71.5], "nice": false}, "axis": {"values": [10, 20, 30, 40, 50, 60, 70], "labelExpr": "datum.value % 20 === 0 ? datum.label : ''", "tickSize": -8, "labelPadding": 17, "domain": false, "title": null, "labelFontSize": 15, "labelFlush": false, "labelOverlap": false}},
                    "y": {"field": "h", "type": "quantitative", "scale": {"domain": [-4, 5], "nice": false}, "axis": {"values": [-2, 0, 2], "labels": false, "ticks": false, "domain": false, "title": null, "grid": true, "gridColor": "#444444", "gridDash": {"condition": {"test": "datum.value === 0", "value": []}, "value": [6, 8]}}}
                  },
                  "layer": [
                    {"transform": [{"filter": "datum.core"}], "mark": {"type": "area", "fill": "#6f6f6f"}, "encoding": {"y2": {"datum": 0}}},
                    {"mark": {"type": "line", "stroke": "#333333", "strokeWidth": 1.1}}
                  ]
                },
                {
                  "width": 115, "height": 252, "title": "DPAP B",
                  "data": {"name": "profiles"},
                  "transform": [{"filter": "datum.seq === 'DPAP B'"}],
                  "encoding": {
                    "x": {"field": "res", "type": "quantitative", "scale": {"domain": [0, 71.5], "nice": false}, "axis": {"values": [10, 20, 30, 40, 50, 60, 70], "labelExpr": "datum.value % 20 === 0 ? datum.label : ''", "tickSize": -8, "labelPadding": 17, "domain": false, "title": null, "labelFontSize": 15, "labelFlush": false, "labelOverlap": false}},
                    "y": {"field": "h", "type": "quantitative", "scale": {"domain": [-4, 5], "nice": false}, "axis": {"orient": "right", "values": [-3, -2, -1, 0, 1, 2, 3, 4], "labelExpr": "datum.value < 0 ? '-' + abs(datum.value) : datum.label", "tickSize": 10, "labelPadding": 22, "labelAlign": "right", "domain": false, "title": null, "labelFontSize": 15, "grid": true, "gridColor": "#444444", "gridOpacity": {"condition": {"test": "abs(datum.value) === 2 || datum.value === 0", "value": 1}, "value": 0}, "gridDash": {"condition": {"test": "datum.value === 0", "value": []}, "value": [6, 8]}}}
                  },
                  "layer": [
                    {"transform": [{"filter": "datum.core"}], "mark": {"type": "area", "fill": "#6f6f6f"}, "encoding": {"y2": {"datum": 0}}},
                    {"mark": {"type": "line", "stroke": "#333333", "strokeWidth": 1.1}}
                  ]
                }
              ]
            }
          ]
        }
      ]
    },
    {
      "width": 336, "height": 332,
      "title": {"text": "B", "anchor": "start", "frame": "bounds", "fontSize": 36, "fontWeight": "bold", "baseline": "alphabetic", "offset": -35, "dx": -3},
      "data": {"name": "bars"},
      "mark": {"type": "bar", "stroke": "#222222", "strokeWidth": 1.2},
      "encoding": {
        "x": {"field": "seq", "type": "nominal", "sort": ["CPY", "α-factor", "Gas1p", "PDI", "Kar2p", "Och1p", "Pho8p", "DPAP B"], "scale": {"paddingInner": 0.18, "paddingOuter": 0.12},
          "axis": {"labelAngle": -45, "labelFontSize": 20, "tickSize": 8, "labelPadding": 2, "domain": false, "title": "Targeting sequence", "titleFontSize": 22, "titlePadding": 19}},
        "xOffset": {"field": "series", "sort": ["solid", "open"], "scale": {"paddingInner": 0, "paddingOuter": 0}},
        "y": {"field": "h", "type": "quantitative", "scale": {"domain": [0, 4], "nice": false},
          "axis": {"values": [0, 1, 2, 3, 4], "labelExpr": "datum.value > 0 ? '+' + datum.value : '0'", "tickSize": 7, "labelPadding": 3, "labelFontSize": 20, "domain": false, "title": "Hydropathic index", "titleFontSize": 22, "titlePadding": 46}},
        "fill": {"field": "series", "scale": {"domain": ["solid", "open"], "range": ["#5c5c5c", "#ffffff"]}, "legend": null}
      }
    }
  ]
}
